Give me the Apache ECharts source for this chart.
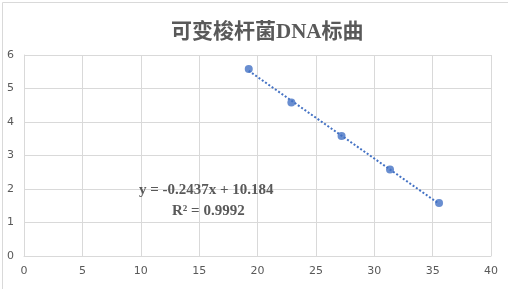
<!DOCTYPE html>
<html>
<head>
<meta charset="utf-8">
<script src="https://cdn.jsdelivr.net/npm/echarts@6/dist/echarts.min.js"></script>
<style>
  html, body { margin: 0; padding: 0; background: #fff; }
  #chart { width: 508px; height: 289px; }
</style>
</head>
<body>
<div id="chart"></div>
<script>
// Ct 值
var ctValues = [19.25, 22.9, 27.2, 31.35, 35.55]
// lg(拷贝数)
var logCopies = [5.58, 4.58, 3.58, 2.58, 1.58]
var xTicks = [0, 5, 10, 15, 20, 25, 30, 35, 40]
var yTicks = [0, 1, 2, 3, 4, 5, 6]
var titleText = '可变梭杆菌DNA标曲'
var equationText = 'y = -0.2437x + 10.184'
var r2Text = 'R² = 0.9992'

// 最小二乘趋势线
function fitLine(xs, ys) {
  var n = xs.length, sx = 0, sy = 0, sxx = 0, sxy = 0
  for (var i = 0; i < n; i++) {
    sx += xs[i]; sy += ys[i]; sxx += xs[i] * xs[i]; sxy += xs[i] * ys[i]
  }
  var k = (n * sxy - sx * sy) / (n * sxx - sx * sx)
  var b = (sy - k * sx) / n
  return { k: k, b: b }
}
var fit = fitLine(ctValues, logCopies)
var xMin = Math.min.apply(null, ctValues)
var xMax = Math.max.apply(null, ctValues)
var trendData = [[xMin, fit.k * xMin + fit.b], [xMax, fit.k * xMax + fit.b]]

var chart = echarts.init(document.getElementById('chart'))
var gridColor = '#d9d9d9'
var textColor = '#595959'
var serif = '"Liberation Serif", "Noto Sans CJK SC", serif'
chart.setOption({
  animation: false,
  title: {
    text: titleText,
    left: 166,
    top: 17,
    textStyle: {
      fontFamily: serif,
      fontSize: 21,
      fontWeight: 'bold',
      color: textColor
    }
  },
  grid: { left: 24, right: 17, top: 55, bottom: 33 },
  xAxis: {
    type: 'value',
    min: 0, max: 40, interval: 5,
    axisLine: { show: true, lineStyle: { color: gridColor } },
    axisTick: { show: false },
    splitLine: { show: true, lineStyle: { color: gridColor } },
    axisLabel: {
      margin: 10,
      color: textColor,
      fontSize: 11,
      fontFamily: 'DejaVu Sans',
      formatter: function (v) { return xTicks.indexOf(v) >= 0 ? String(v) : '' }
    }
  },
  yAxis: {
    type: 'value',
    min: 0, max: 6, interval: 1,
    axisLine: { show: true, lineStyle: { color: gridColor } },
    axisTick: { show: false },
    splitLine: { show: true, lineStyle: { color: gridColor } },
    axisLabel: {
      margin: 10,
      color: textColor,
      fontSize: 11,
      fontFamily: 'DejaVu Sans',
      formatter: function (v) { return yTicks.indexOf(v) >= 0 ? String(v) : '' }
    }
  },
  graphic: [
    {
      type: 'rect',
      left: 0, top: 0,
      shape: { width: 507, height: 288 },
      style: { fill: 'none', stroke: gridColor, lineWidth: 1 },
      silent: true
    },
    {
      type: 'text',
      left: 139, top: 183,
      z: 10,
      style: {
        text: equationText,
        fontFamily: serif,
        fontSize: 15,
        fontWeight: 'bold',
        fill: textColor
      }
    },
    {
      type: 'text',
      left: 172, top: 204,
      z: 10,
      style: {
        text: r2Text,
        fontFamily: serif,
        fontSize: 15,
        fontWeight: 'bold',
        fill: textColor
      }
    }
  ],
  series: [
    {
      name: 'trend',
      type: 'line',
      data: trendData,
      symbol: 'none',
      lineStyle: { color: '#4472c4', width: 2, type: [2, 2] },
      z: 2
    },
    {
      name: 'data',
      type: 'scatter',
      data: ctValues.map(function (x, i) { return [x, logCopies[i]] }),
      symbolSize: 8,
      itemStyle: { color: '#4472c4' },
      z: 3
    }
  ]
})
</script>
</body>
</html>
